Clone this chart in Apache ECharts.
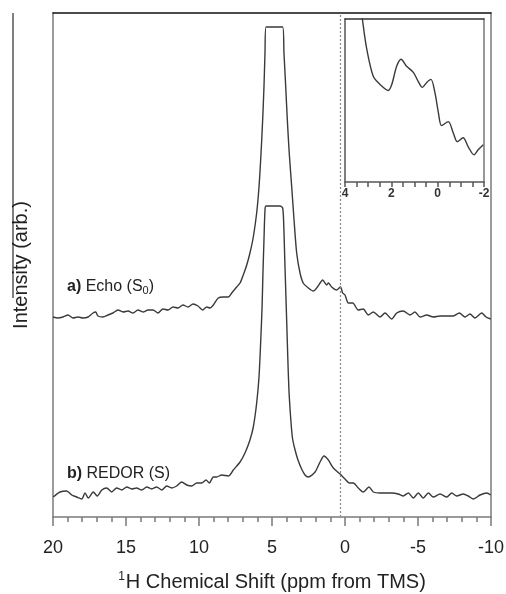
<!DOCTYPE html>
<html><head><meta charset="utf-8">
<script src="https://cdn.jsdelivr.net/npm/echarts@6/dist/echarts.min.js"></script>
<style>html,body{margin:0;padding:0;background:#fff}#c{width:506px;height:594px}</style>
</head><body><div id="c"></div>
<script>
// ---- data (ppm, intensity in arbitrary units; spectra stacked with offsets) ----
const xRange = [-10, 20];
const insetRange = [-2, 4];
const referenceLinePpm = 0.3;

const echo = [
[20.00,200],[19.66,199],[19.32,200],[18.97,202],[18.63,199],[18.29,200],[17.95,199],[17.60,200],[17.26,204],[17.08,205],[16.92,201],[16.58,200],[16.23,202],[15.89,204],[15.55,207],[15.20,205],[14.86,206],[14.52,204],[14.18,207],[13.84,205],[13.49,207],[13.15,207],[12.81,204],[12.47,208],[12.12,207],[11.78,210],[11.44,209],[11.10,212],[10.75,210],[10.41,213],[10.07,211],[9.75,207],[9.47,210],[9.25,209],[9.02,212],[8.68,219],[8.34,220],[7.99,220],[7.76,224],[7.42,230],[7.19,234],[6.97,242],[6.73,252],[6.51,264],[6.28,280],[6.05,304],[5.89,330],[5.75,364],[5.64,397],[5.55,430],[5.48,464],[5.41,490],[4.27,490],[4.18,464],[4.06,430],[3.95,397],[3.82,364],[3.65,330],[3.49,297],[3.31,264],[3.08,244],[2.86,234],[2.51,229],[2.17,226],[1.94,229],[1.66,235],[1.53,237],[1.25,232],[1.14,234],[0.91,230],[0.58,227],[0.31,230],[0.16,224],[0.00,222],[-0.23,214],[-0.53,214],[-0.91,207],[-1.25,208],[-1.60,202],[-1.94,205],[-2.40,200],[-2.74,204],[-3.20,198],[-3.54,204],[-3.99,206],[-4.45,202],[-4.79,205],[-5.14,200],[-5.60,202],[-6.05,200],[-6.51,201],[-6.97,201],[-7.42,201],[-7.83,204],[-8.22,200],[-8.56,203],[-8.90,199],[-9.36,204],[-9.66,200],[-9.98,198]
];

const redor = [
[19.98,20],[19.52,25],[19.06,26],[18.72,22],[18.38,20],[18.03,18],[17.81,24],[17.58,19],[17.24,25],[16.97,21],[16.66,27],[16.32,29],[15.98,25],[15.64,29],[15.29,27],[14.95,30],[14.61,28],[14.27,29],[13.92,27],[13.58,30],[13.24,28],[12.90,30],[12.55,27],[12.21,31],[11.87,29],[11.53,31],[11.18,35],[10.84,32],[10.50,31],[10.16,34],[9.82,34],[9.52,37],[9.29,34],[9.02,40],[8.79,40],[8.45,42],[7.99,41],[7.65,47],[7.19,55],[6.85,64],[6.51,77],[6.28,90],[6.05,114],[5.89,140],[5.77,177],[5.68,210],[5.62,244],[5.55,277],[5.48,307],[5.41,311],[4.45,311],[4.27,309],[4.20,294],[4.13,260],[4.06,227],[3.99,194],[3.92,160],[3.84,127],[3.72,99],[3.60,79],[3.42,67],[3.22,57],[2.97,48],[2.74,42],[2.51,40],[2.05,45],[1.71,55],[1.44,61],[1.14,57],[0.80,49],[0.34,43],[0.00,38],[-0.29,34],[-0.57,34],[-0.91,29],[-1.25,25],[-1.64,30],[-1.94,25],[-2.40,24],[-2.74,24],[-3.20,24],[-3.65,23],[-3.99,21],[-4.34,24],[-4.68,19],[-5.02,24],[-5.36,19],[-5.71,24],[-6.05,20],[-6.51,23],[-6.97,20],[-7.31,24],[-7.65,21],[-8.10,23],[-8.45,21],[-8.79,18],[-9.25,22],[-9.71,24],[-9.98,22]
];

// inset: zoomed view of the echo spectrum between 4 and -2 ppm
const inset = [
[3.40,190],[3.25,162],[3.06,132],[2.78,105],[2.49,97],[2.13,91],[1.98,97],[1.77,115],[1.58,122],[1.34,115],[1.05,109],[0.84,100],[0.66,94],[0.47,99],[0.29,102],[0.12,89],[-0.03,69],[-0.17,56],[-0.46,60],[-0.67,49],[-0.85,40],[-1.10,44],[-1.32,35],[-1.57,27],[-1.75,32],[-1.97,37]
];

// ---- chart ----
const FF = '"Liberation Sans", Arial, Helvetica, sans-serif';
const axisGray = '#7a7a7a';
const lineCol = '#3a3a3a';

const chart = echarts.init(document.getElementById('c'), null, {renderer: 'canvas'});

function borderX(grid, pos, color, range) {
  return {gridIndex: grid, type: 'value', position: pos, min: range[0], max: range[1], inverse: true,
    axisLine: {show: true, onZero: false, lineStyle: {color: color, width: 1.5}},
    axisTick: {show: false}, axisLabel: {show: false}, splitLine: {show: false}};
}
function borderY(grid, pos, color, max) {
  return {gridIndex: grid, type: 'value', position: pos, min: 0, max: max,
    axisLine: {show: true, onZero: false, lineStyle: {color: color, width: 1.5}},
    axisTick: {show: false}, axisLabel: {show: false}, splitLine: {show: false}};
}

const option = {
  animation: false,
  backgroundColor: '#fff',
  grid: [
    {left: 53, top: 13, width: 438, height: 504, containLabel: false, outerBoundsMode: 'none'},
    {left: 345, top: 19, width: 139, height: 163, containLabel: false, outerBoundsMode: 'none'}
  ],
  xAxis: [
    {gridIndex: 0, type: 'value', position: 'bottom', min: xRange[0], max: xRange[1], interval: 5, inverse: true,
      axisLine: {show: true, onZero: false, lineStyle: {color: axisGray, width: 1.5}},
      axisTick: {show: true, inside: false, length: 9, lineStyle: {color: axisGray, width: 1.5}},
      minorTick: {show: true, splitNumber: 5, length: 5, lineStyle: {color: axisGray, width: 1.5}},
      splitLine: {show: false},
      axisLabel: {fontSize: 18, color: '#222', margin: 22, fontFamily: FF},
      name: '{sup|1}H Chemical Shift (ppm from TMS)', nameLocation: 'middle', nameGap: 54,
      nameTextStyle: {fontSize: 20, color: '#222', fontFamily: FF,
        rich: {sup: {fontSize: 12, color: '#222', fontFamily: FF, verticalAlign: 'top', padding: [0, 1, 10, 0]}}}
    },
    borderX(0, 'top', '#111', xRange),
    {gridIndex: 1, type: 'value', position: 'bottom', min: insetRange[0], max: insetRange[1], interval: 0.5, inverse: true,
      axisLine: {show: true, onZero: false, lineStyle: {color: '#555', width: 1.5}},
      axisTick: {show: true, inside: false, length: 5, lineStyle: {color: '#555', width: 1.5}},
      splitLine: {show: false},
      axisLabel: {fontSize: 12, color: '#333', fontWeight: 'bold', margin: 6, fontFamily: FF,
        formatter: v => (Math.abs(v % 2) < 1e-9 ? String(v) : '')}
    },
    borderX(1, 'top', '#333', insetRange)
  ],
  yAxis: [
    {gridIndex: 0, type: 'value', position: 'left', min: 0, max: 504,
      axisLine: {show: true, onZero: false, lineStyle: {color: axisGray, width: 1.5}},
      axisTick: {show: false}, axisLabel: {show: false}, splitLine: {show: false},
      name: 'Intensity (arb.)', nameLocation: 'middle', nameRotate: 90, nameGap: 22,
      nameTextStyle: {fontSize: 20, color: '#222', fontFamily: FF}
    },
    borderY(0, 'right', axisGray, 504),
    borderY(1, 'left', '#555', 162),
    borderY(1, 'right', '#777', 162)
  ],
  series: [
    {type: 'line', name: 'Echo', xAxisIndex: 0, yAxisIndex: 0, data: echo, showSymbol: false, symbol: 'none',
      smooth: 0.25, lineStyle: {color: lineCol, width: 1.4}, z: 3,
      markLine: {silent: true, symbol: 'none', label: {show: false},
        lineStyle: {type: [2, 2], color: '#888', width: 1.2},
        data: [{xAxis: referenceLinePpm}]}
    },
    {type: 'line', name: 'REDOR', xAxisIndex: 0, yAxisIndex: 0, data: redor, showSymbol: false, symbol: 'none',
      smooth: 0.25, lineStyle: {color: lineCol, width: 1.4}, z: 3},
    {type: 'line', name: 'Inset', xAxisIndex: 2, yAxisIndex: 2, data: inset, showSymbol: false, symbol: 'none',
      smooth: 0.3, clip: true, lineStyle: {color: lineCol, width: 1.4}, z: 3}
  ],
  graphic: [
    {type: 'line', shape: {x1: 13, y1: 13, x2: 13, y2: 298}, style: {stroke: '#000', lineWidth: 1}, z: 10},
    {type: 'text', x: 67, y: 287, z: 10, style: {
      text: '{b|a)} Echo (S{sub|0})', fill: '#222', fontSize: 16, fontFamily: FF, verticalAlign: 'middle',
      rich: {b: {fontWeight: 'bold', fontSize: 16, fontFamily: FF, fill: '#222'},
             sub: {fontSize: 11, fontFamily: FF, fill: '#222', verticalAlign: 'bottom', padding: [8, 0, 0, 0]}}}},
    {type: 'text', x: 67, y: 474, z: 10, style: {
      text: '{b|b)} REDOR (S)', fill: '#222', fontSize: 16, fontFamily: FF, verticalAlign: 'middle',
      rich: {b: {fontWeight: 'bold', fontSize: 16, fontFamily: FF, fill: '#222'}}}}
  ]
};
chart.setOption(option);
</script>
</body></html>
